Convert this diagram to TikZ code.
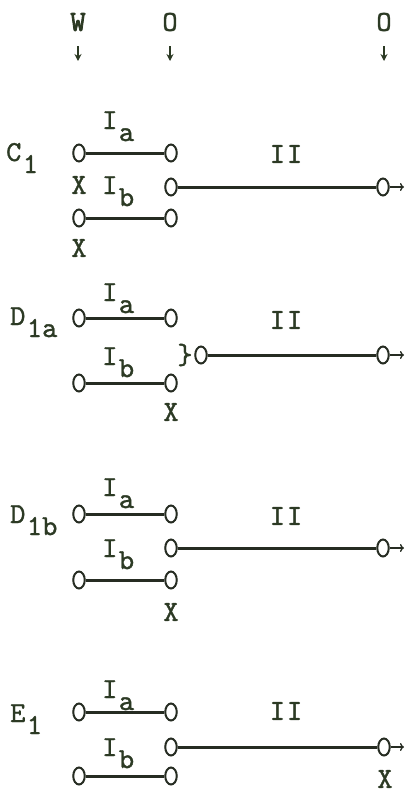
\documentclass[tikz,border=0pt]{standalone}
\usepackage{fontspec}
\newfontfamily\tw{lmmono10-regular.otf}[FakeBold=1.2]
\newfontfamily\twb{lmmono10-regular.otf}[FakeBold=3]
\usetikzlibrary{shapes.geometric,arrows.meta}
\definecolor{ink}{RGB}{44,58,36}
\definecolor{lineink}{RGB}{38,44,34}
\newcommand\sbx[1]{\kern1.5pt\raisebox{-12pt}{#1}}
\newcommand\twoI{I\kern2pt I}
\begin{document}
\begin{tikzpicture}[x=1pt,y=-1pt,
  ring/.style={ellipse,draw=lineink,line width=2pt,minimum width=11.5pt,minimum height=17pt,inner sep=0pt},
  bar/.style={draw=lineink,line width=3pt},
  lbl/.style={text=ink,inner sep=0pt,font=\fontsize{29}{29}\tw},
  outarrow/.style={draw=lineink,line width=1.5pt,-{To[length=4pt,width=8pt,line width=1.3pt]}},
  downarrow/.style={draw=ink,line width=1.6pt,-{Stealth[length=7pt,width=7pt]}}]
\useasboundingbox (0,0) rectangle (405,793);
% header
\node[lbl,font=\fontsize{29}{29}\twb] (hw) at (78,22) {W};
\node[lbl] (ho1) at (170,22) {O};
\node[lbl] (ho2) at (384,22) {O};
\coordinate (a1s) at (78,46); \coordinate (a1e) at (78,61);
\coordinate (a2s) at (170,46); \coordinate (a2e) at (170,61);
\coordinate (a3s) at (384,46); \coordinate (a3e) at (384,61);
\draw[downarrow] (a1s) -- (a1e);
\draw[downarrow] (a2s) -- (a2e);
\draw[downarrow] (a3s) -- (a3e);

% ---------- C1 ----------
\node[lbl,anchor=base west] (c1lab) at (6,161) {C\sbx{1}};
\node[lbl,anchor=base west] (c1ia) at (102,129) {I\sbx{a}};
\node[lbl,anchor=base west] (c1ib) at (102,194) {I\sbx{b}};
\node[lbl] (c1ii) at (286,154) {\twoI};
\node[lbl] (c1x1) at (79,185) {X};
\node[lbl] (c1x2) at (79,248) {X};
\node[ring] (c1a1) at (79,153) {};
\node[ring] (c1a2) at (171,153) {};
\node[ring] (c1m1) at (171,187) {};
\node[ring] (c1m2) at (383,187) {};
\node[ring] (c1b1) at (79,218) {};
\node[ring] (c1b2) at (171,218) {};
\coordinate (c1end) at (404,187);
\draw[bar] (c1a1) -- (c1a2);
\draw[bar] (c1m1) -- (c1m2);
\draw[bar] (c1b1) -- (c1b2);
\draw[outarrow] (c1m2.east) -- (c1end);

% ---------- D1a ----------
\node[lbl,anchor=base west] (dalab) at (10,325) {D\sbx{1a}};
\node[lbl,anchor=base west] (daia) at (102,301) {I\sbx{a}};
\node[lbl,anchor=base west] (daib) at (102,365) {I\sbx{b}};
\node[lbl] (daii) at (286,320) {\twoI};
\node[lbl] (dax) at (171,412) {X};
\node[lbl] (dabr) at (185,355) {\}};
\node[ring] (daa1) at (79,318) {};
\node[ring] (daa2) at (171,318) {};
\node[ring] (dam1) at (201,355) {};
\node[ring] (dam2) at (383,355) {};
\node[ring] (dab1) at (79,383) {};
\node[ring] (dab2) at (171,383) {};
\coordinate (daend) at (404,355);
\draw[bar] (daa1) -- (daa2);
\draw[bar] (dam1) -- (dam2);
\draw[bar] (dab1) -- (dab2);
\draw[outarrow] (dam2.east) -- (daend);

% ---------- D1b ----------
\node[lbl,anchor=base west] (dblab) at (10,523) {D\sbx{1b}};
\node[lbl,anchor=base west] (dbia) at (102,496) {I\sbx{a}};
\node[lbl,anchor=base west] (dbib) at (102,557) {I\sbx{b}};
\node[lbl] (dbii) at (286,516) {\twoI};
\node[lbl] (dbx) at (171,612) {X};
\node[ring] (dba1) at (79,514) {};
\node[ring] (dba2) at (171,514) {};
\node[ring] (dbm1) at (171,548) {};
\node[ring] (dbm2) at (383,548) {};
\node[ring] (dbb1) at (79,580) {};
\node[ring] (dbb2) at (171,580) {};
\coordinate (dbend) at (404,548);
\draw[bar] (dba1) -- (dba2);
\draw[bar] (dbm1) -- (dbm2);
\draw[bar] (dbb1) -- (dbb2);
\draw[outarrow] (dbm2.east) -- (dbend);

% ---------- E1 ----------
\node[lbl,anchor=base west] (e1lab) at (10,722) {E\sbx{1}};
\node[lbl,anchor=base west] (e1ia) at (102,698) {I\sbx{a}};
\node[lbl,anchor=base west] (e1ib) at (102,756) {I\sbx{b}};
\node[lbl] (e1ii) at (286,711) {\twoI};
\node[lbl] (e1x) at (385,779) {X};
\node[ring] (e1a1) at (79,712) {};
\node[ring] (e1a2) at (171,712) {};
\node[ring] (e1m1) at (171,747) {};
\node[ring] (e1m2) at (384,747) {};
\node[ring] (e1b1) at (79,776) {};
\node[ring] (e1b2) at (171,776) {};
\coordinate (e1end) at (404,747);
\draw[bar] (e1a1) -- (e1a2);
\draw[bar] (e1m1) -- (e1m2);
\draw[bar] (e1b1) -- (e1b2);
\draw[outarrow] (e1m2.east) -- (e1end);
\end{tikzpicture}
\end{document}
